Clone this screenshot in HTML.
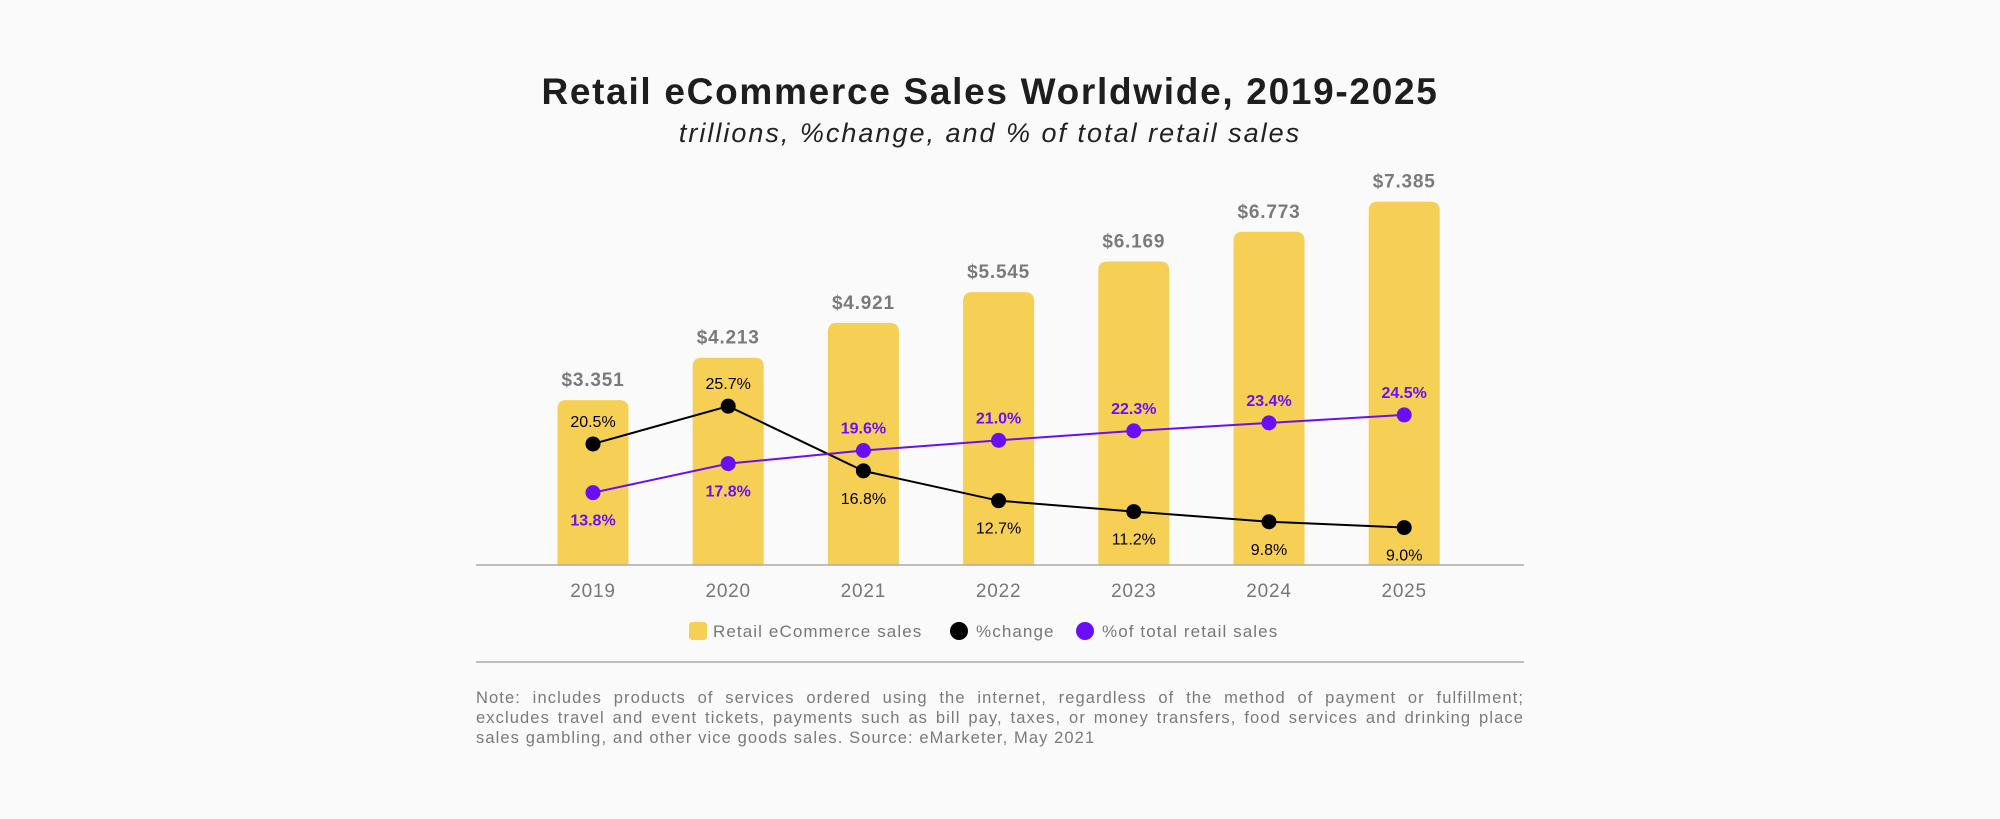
<!DOCTYPE html>
<html><head><meta charset="utf-8">
<style>
html,body{margin:0;padding:0;background:#fafafa;}
body{width:2000px;height:819px;position:relative;overflow:hidden;font-family:"Liberation Sans",sans-serif;}
.note{position:absolute;left:476px;top:688px;width:1048px;font-size:16.5px;color:#7a7a7a;line-height:20px;letter-spacing:1.1px;}
.note .j{display:block;text-align:justify;text-align-last:justify;white-space:nowrap;}
.note .l{display:block;}
</style></head>
<body>
<svg id="chart" width="2000" height="680" style="position:absolute;left:0;top:0">
<text x="990" y="104" text-anchor="middle" font-size="37" font-weight="bold" letter-spacing="1.7" fill="#1e1e1e" font-family="Liberation Sans, sans-serif">Retail eCommerce Sales Worldwide, 2019-2025</text>
<text x="990" y="142" text-anchor="middle" font-size="27" font-style="italic" letter-spacing="2" fill="#222" font-family="Liberation Sans, sans-serif">trillions, %change, and % of total retail sales</text>
<g id="bars"></g>
<line x1="476" y1="565" x2="1524" y2="565" stroke="#aaa" stroke-width="1.5"/>
<g id="lines"></g>
<g id="xlabels"></g>
<g letter-spacing="1.1">
<rect x="689" y="622" width="18" height="18" rx="3" fill="#f6cf55"/>
<text x="713" y="637" font-size="17" fill="#777">Retail eCommerce sales</text>
<circle cx="959" cy="631" r="9" fill="#000"/>
<text x="976" y="637" font-size="17" fill="#777">%change</text>
<circle cx="1085" cy="631" r="9" fill="#6a0ff5"/>
<text x="1102" y="637" font-size="17" fill="#777">%of total retail sales</text>
</g>
<line x1="476" y1="662" x2="1524" y2="662" stroke="#aaa" stroke-width="1.5"/>
</svg>
<div class="note">
<span class="j">Note: includes products of services ordered using the internet, regardless of the method of payment or fulfillment;</span>
<span class="j">excludes travel and event tickets, payments such as bill pay, taxes, or money transfers, food services and drinking place</span>
<span class="l">sales gambling, and other vice goods sales. Source: eMarketer, May 2021</span>
</div>
<script>
const years = ["2019","2020","2021","2022","2023","2024","2025"];
const sales = [3.351,4.213,4.921,5.545,6.169,6.773,7.385];
const salesLabels = ["$3.351","$4.213","$4.921","$5.545","$6.169","$6.773","$7.385"];
const pctChange = [20.5,25.7,16.8,12.7,11.2,9.8,9.0];
const pctShare = [13.8,17.8,19.6,21.0,22.3,23.4,24.5];
const NS="http://www.w3.org/2000/svg";
function xPos(i){return 593+i*135.2;}
function yBar(v){return 565-v*49.2;}
function yPct(v){return 593-v*7.27;}
function mk(tag,attrs,parent){const e=document.createElementNS(NS,tag);for(const k in attrs)e.setAttribute(k,attrs[k]);parent.appendChild(e);return e;}
const bars=document.getElementById('bars'),lines=document.getElementById('lines'),xl=document.getElementById('xlabels');
years.forEach((y,i)=>{
  const x=xPos(i),top=yBar(sales[i]);
  const r=mk('path',{d:`M${x-35.5},565 V${top+9} Q${x-35.5},${top} ${x-26.5},${top} H${x+26.5} Q${x+35.5},${top} ${x+35.5},${top+9} V565 Z`,fill:'#f6cf55'},bars);
  
  
  const t=mk('text',{x:x,y:top-14,'text-anchor':'middle','font-size':19,'font-weight':'bold',fill:'#7a7a7a','letter-spacing':0.8},bars);
  t.textContent=salesLabels[i];
  
  
  const yl=mk('text',{x:x,y:597,'text-anchor':'middle','font-size':19,fill:'#777','letter-spacing':0.8},xl);
  yl.textContent=y;
  
  
});
function series(vals,color,name,above){
  const pts=vals.map((v,i)=>xPos(i)+','+yPct(v)).join(' ');
  const pl=mk('polyline',{points:pts,fill:'none',stroke:color,'stroke-width':2},lines);
  
  
  vals.forEach((v,i)=>{
    const cx=xPos(i),cy=yPct(v);
    const c=mk('circle',{cx:cx,cy:cy,r:7.5,fill:color},lines);
    
    
    const up=above(i);
    const t=mk('text',{x:cx,y:up?cy-17:cy+33,'text-anchor':'middle','font-size':16,fill:color,'font-weight':name==='share'?'bold':'normal'},lines);
    t.textContent=v.toFixed(1)+'%';
    
    
  });
}
series(pctChange,'#000','change',i=>i<2);
series(pctShare,'#6a0ff5','share',i=>i>=2);
</script>
</body></html>
